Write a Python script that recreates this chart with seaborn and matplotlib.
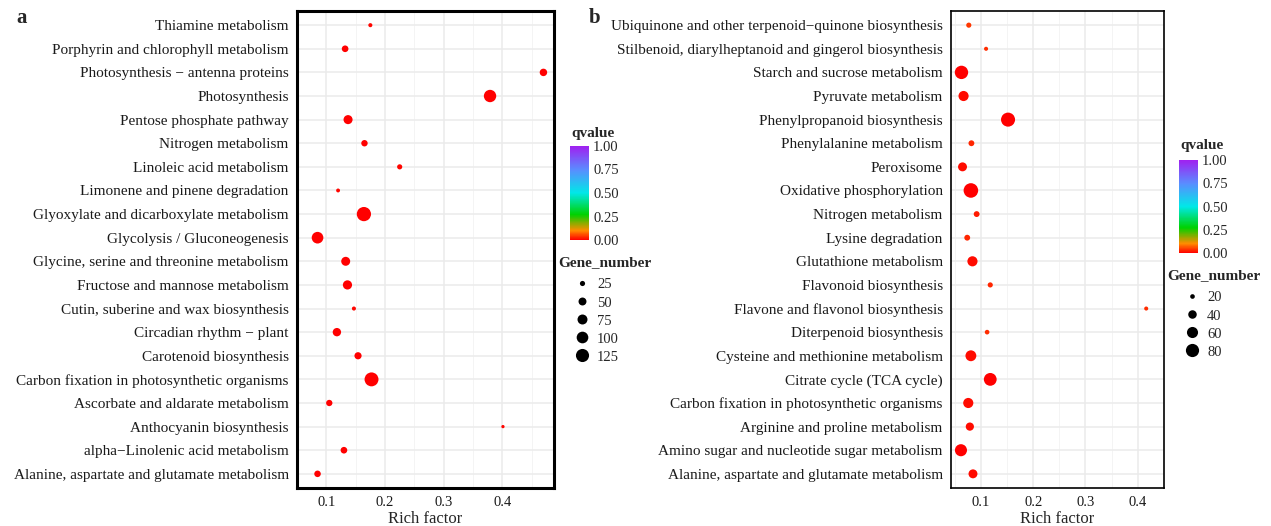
import numpy as np
import pandas as pd
import matplotlib
matplotlib.use("Agg")
import matplotlib.pyplot as plt
import seaborn as sns
from matplotlib.colors import LinearSegmentedColormap, Normalize
from matplotlib.cm import ScalarMappable
from matplotlib.lines import Line2D

# ---- panel a data (top to bottom) ----
pathways_a = [
    "Thiamine metabolism",
    "Porphyrin and chlorophyll metabolism",
    "Photosynthesis \u2212 antenna proteins",
    "Photosynthesis",
    "Pentose phosphate pathway",
    "Nitrogen metabolism",
    "Linoleic acid metabolism",
    "Limonene and pinene degradation",
    "Glyoxylate and dicarboxylate metabolism",
    "Glycolysis / Gluconeogenesis",
    "Glycine, serine and threonine metabolism",
    "Fructose and mannose metabolism",
    "Cutin, suberine and wax biosynthesis",
    "Circadian rhythm \u2212 plant",
    "Carotenoid biosynthesis",
    "Carbon fixation in photosynthetic organisms",
    "Ascorbate and aldarate metabolism",
    "Anthocyanin biosynthesis",
    "alpha\u2212Linolenic acid metabolism",
    "Alanine, aspartate and glutamate metabolism",
]
rich_a = [0.175, 0.132, 0.470, 0.379, 0.137, 0.165, 0.225, 0.120, 0.164, 0.085,
          0.133, 0.136, 0.147, 0.118, 0.154, 0.177, 0.105, 0.401, 0.130, 0.085]
genes_a = [18, 37, 45, 112, 63, 35, 25, 17, 146, 100,
           62, 65, 18, 55, 42, 140, 34, 14, 37, 36]
qvalue_a = [0.005, 0.0, 0.0, 0.0, 0.0, 0.0, 0.005, 0.005, 0.0, 0.0,
            0.0, 0.0, 0.005, 0.0, 0.0, 0.0, 0.0, 0.005, 0.0, 0.0]
legend_genes_a = [25, 50, 75, 100, 125]

# ---- panel b data (top to bottom) ----
pathways_b = [
    "Ubiquinone and other terpenoid\u2212quinone biosynthesis",
    "Stilbenoid, diarylheptanoid and gingerol biosynthesis",
    "Starch and sucrose metabolism",
    "Pyruvate metabolism",
    "Phenylpropanoid biosynthesis",
    "Phenylalanine metabolism",
    "Peroxisome",
    "Oxidative phosphorylation",
    "Nitrogen metabolism",
    "Lysine degradation",
    "Glutathione metabolism",
    "Flavonoid biosynthesis",
    "Flavone and flavonol biosynthesis",
    "Diterpenoid biosynthesis",
    "Cysteine and methionine metabolism",
    "Citrate cycle (TCA cycle)",
    "Carbon fixation in photosynthetic organisms",
    "Arginine and proline metabolism",
    "Amino sugar and nucleotide sugar metabolism",
    "Alanine, aspartate and glutamate metabolism",
]
rich_b = [0.077, 0.110, 0.063, 0.067, 0.152, 0.082, 0.065, 0.081, 0.092, 0.074,
          0.084, 0.118, 0.416, 0.112, 0.081, 0.118, 0.076, 0.079, 0.062, 0.085]
genes_b = [22, 18, 82, 52, 89, 25, 43, 95, 25, 25,
           52, 22, 18, 20, 58, 76, 52, 38, 69, 43]
qvalue_b = [0.04, 0.035, 0.0, 0.01, 0.0, 0.03, 0.01, 0.0, 0.02, 0.03,
            0.01, 0.03, 0.035, 0.035, 0.01, 0.0, 0.01, 0.01, 0.0, 0.01]
legend_genes_b = [20, 40, 60, 80]

qvalue_ticks = [0.0, 0.25, 0.5, 0.75, 1.0]

sns.set_style("white")
plt.rcParams["font.family"] = ["Liberation Serif", "DejaVu Serif"]

W, H = 1271, 526
qcmap = LinearSegmentedColormap.from_list(
    "qv", [(0.0, "#FF0000"), (0.1, "#FF8C00"), (0.27, "#00D200"),
           (0.5, "#00E8E8"), (0.75, "#5A8CFF"), (1.0, "#A020F0")])
qnorm = Normalize(0, 1)


def fx(px):
    return px / W


def fy(px):
    return 1 - px / H


def draw_panel(fig, rect, names, rich, genes, qv, xlim, size_norm, sizes,
               frame_lw, cbar_px, qtitle_px, gtitle_px, leg_px, leg_vals, letter_px, letter):
    df = pd.DataFrame({"pathway": names, "rich": rich, "genes": genes, "q": qv})
    ax = fig.add_axes(rect)
    sns.scatterplot(data=df, x="rich", y="pathway", hue="q", size="genes",
                    palette=qcmap, hue_norm=(0, 1), sizes=sizes, size_norm=size_norm,
                    linewidth=0, legend=False, ax=ax, zorder=3)
    ax.set_xlim(*xlim)
    ax.set_ylim(len(names) - 0.4, -0.6)
    ax.set_xticks([0.1, 0.2, 0.3, 0.4])
    ax.set_xticklabels(["0.1", "0.2", "0.3", "0.4"])
    ax.set_xticks(np.arange(0.05, 0.5, 0.1), minor=True)
    ax.grid(which="major", color="#EBEBEB", linewidth=1.1)
    ax.grid(which="minor", axis="x", color="#F2F2F2", linewidth=0.6)
    ax.set_axisbelow(True)
    ax.tick_params(axis="both", which="major", direction="out", length=4, width=1.3,
                   color="black", labelsize=11, labelcolor="#1a1a1a", pad=2)
    ax.tick_params(axis="x", labelsize=10.5)
    ax.tick_params(which="minor", length=0)
    for sp in ax.spines.values():
        sp.set_linewidth(frame_lw)
        sp.set_color("black")
    ax.set_ylabel("")
    ax.set_xlabel("Rich factor", fontsize=12, labelpad=1)

    # colour bar
    x0, y0, x1, y1 = cbar_px
    cax = fig.add_axes([fx(x0), fy(y1), fx(x1 - x0), (y1 - y0) / H])
    cb = fig.colorbar(ScalarMappable(norm=qnorm, cmap=qcmap), cax=cax, ticks=qvalue_ticks)
    cb.outline.set_visible(False)
    cb.ax.set_yticklabels([f"{t:.2f}" for t in qvalue_ticks])
    cax.yaxis.set_ticks_position("both")
    cax.tick_params(direction="in", color="white", length=3, width=0.8,
                    labelleft=False, labelright=True, labelsize=10.5, pad=3)
    fig.text(fx(qtitle_px[0]), fy(qtitle_px[1]), "qvalue", fontsize=11,
             fontweight="bold", va="center", ha="left")

    # size legend
    fig.text(fx(gtitle_px[0]), fy(gtitle_px[1]), "Gene_number", fontsize=11,
             fontweight="bold", va="center", ha="left")
    lo, hi = size_norm
    handles = []
    for v in leg_vals:
        s = sizes[0] + (sizes[1] - sizes[0]) * (v - lo) / (hi - lo)
        handles.append(Line2D([], [], marker="o", linestyle="", color="black",
                              markersize=np.sqrt(s), markeredgewidth=0))
    fig.legend(handles, [str(v) for v in leg_vals], loc="upper left",
               bbox_to_anchor=(fx(leg_px[0]), fy(leg_px[1])), frameon=False,
               borderpad=0, handlelength=1.3, handletextpad=0.4,
               labelspacing=0.33, fontsize=10.5)

    fig.text(fx(letter_px[0]), fy(letter_px[1]), letter, fontsize=15,
             fontweight="bold", va="center", ha="left")
    return ax


fig = plt.figure(figsize=(W / 100, H / 100), dpi=100)

draw_panel(fig, [fx(297), fy(488), fx(554 - 297), (488 - 11) / H],
           pathways_a, rich_a, genes_a, qvalue_a, (0.0619, 0.488),
           (10.6, 150), (3, 108), 2.2,
           (570, 146, 589, 240), (571, 133), (558, 263), (565, 271),
           legend_genes_a, (16, 18), "a")

draw_panel(fig, [fx(951), fy(488), fx(1164 - 951), (488 - 11) / H],
           pathways_b, rich_b, genes_b, qvalue_b, (0.043, 0.432),
           (13.8, 95), (3, 110), 1.2,
           (1179, 160, 1198, 253), (1180, 146), (1167, 276), (1175, 284),
           legend_genes_b, (589, 18), "b")

fig.savefig("out.png", dpi=100)
